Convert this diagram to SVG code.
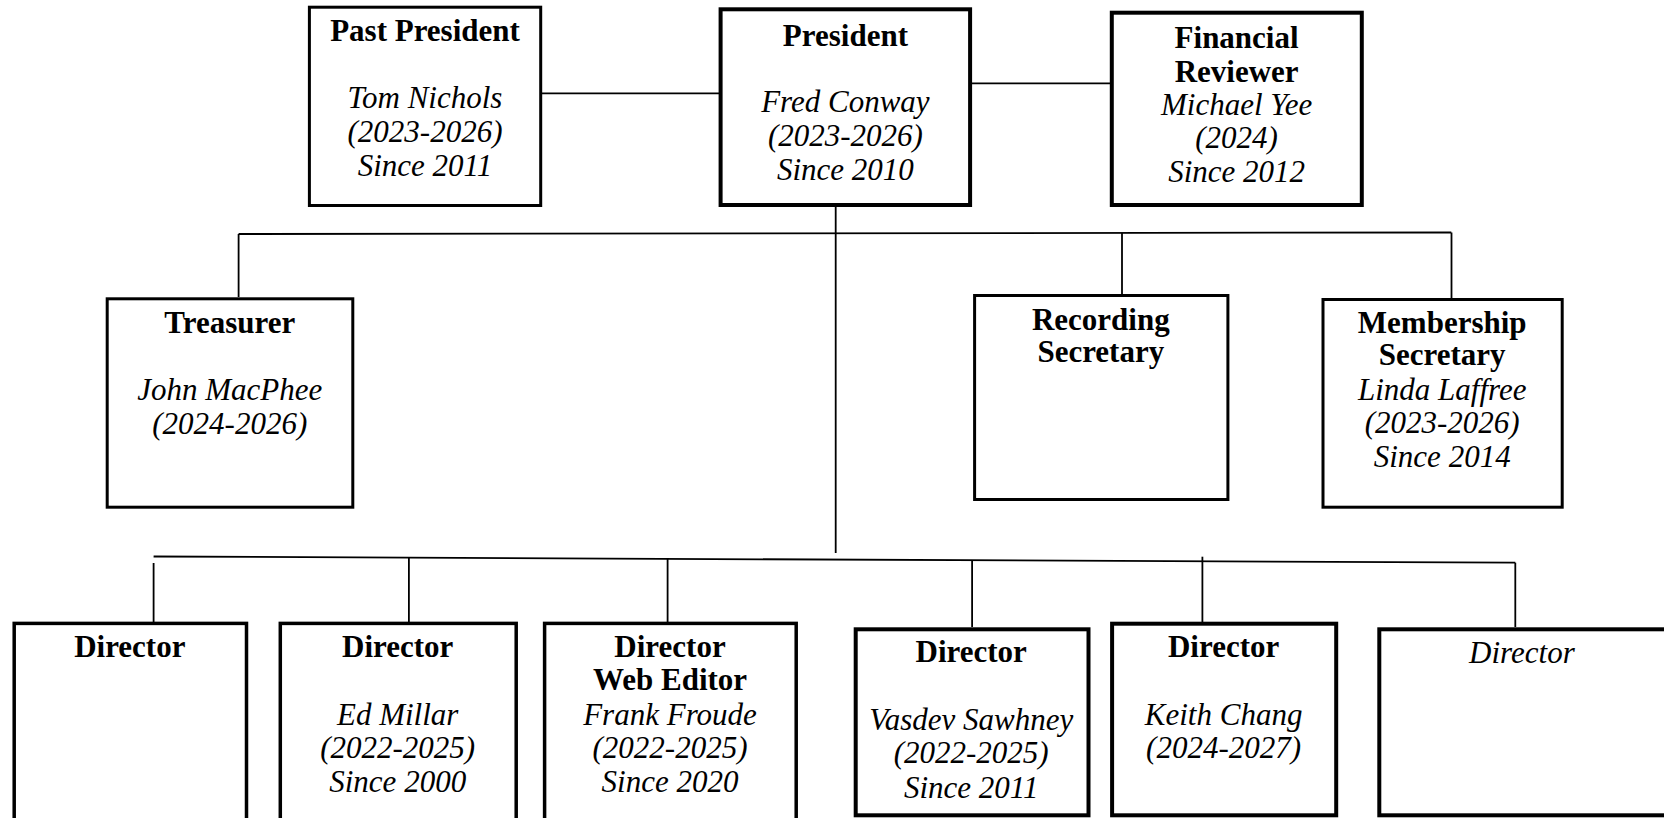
<svg xmlns="http://www.w3.org/2000/svg" width="1664" height="818" viewBox="0 0 1664 818">
<style>
.box{fill:#fff;stroke:#000}
.t{font-family:"Liberation Serif","Times New Roman",serif;font-size:31px;fill:#000;text-anchor:middle}
.b{font-weight:bold}
.i{font-style:italic}
.c{stroke:#000;stroke-width:1.8;fill:none}
</style>
<rect width="1664" height="818" fill="#fff"/>
<g id="connectors">
<line class="c" x1="542" y1="93.3" x2="719" y2="93.3"/>
<line class="c" x1="972" y1="83.3" x2="1110" y2="83.3"/>
<line class="c" x1="835.7" y1="207" x2="835.7" y2="553"/>
<line class="c" x1="238.6" y1="234" x2="1451.3" y2="232.5"/>
<line class="c" x1="238.6" y1="234" x2="238.6" y2="297"/>
<line class="c" x1="1122" y1="233" x2="1122" y2="294"/>
<line class="c" x1="1451.5" y1="232.5" x2="1451.5" y2="298"/>
<line class="c" x1="153.6" y1="556.5" x2="1515.3" y2="562.7"/>
<line class="c" x1="153.6" y1="563" x2="153.6" y2="622"/>
<line class="c" x1="408.9" y1="557.7" x2="408.9" y2="622"/>
<line class="c" x1="667.6" y1="558.8" x2="667.6" y2="622"/>
<line class="c" x1="972.1" y1="560" x2="972.1" y2="627"/>
<line class="c" x1="1202.4" y1="556.7" x2="1202.4" y2="622"/>
<line class="c" x1="1515.3" y1="562.7" x2="1515.3" y2="627"/>
</g>
<g id="past-president">
<rect class="box" x="309.4" y="7.2" width="231.3" height="198.3" stroke-width="3"/>
<text class="t b" x="425" y="40.7">Past President</text>
<text class="t i" x="425" y="108.3">Tom Nichols</text>
<text class="t i" x="425" y="142">(2023-2026)</text>
<text class="t i" x="425" y="175.7">Since 2011</text>
</g>
<g id="president">
<rect class="box" x="720.6" y="9.3" width="249.5" height="195.7" stroke-width="4"/>
<text class="t b" x="845.4" y="46">President</text>
<text class="t i" x="845.4" y="111.7">Fred Conway</text>
<text class="t i" x="845.4" y="145.8">(2023-2026)</text>
<text class="t i" x="845.4" y="180">Since 2010</text>
</g>
<g id="financial-reviewer">
<rect class="box" x="1111.8" y="12.7" width="250" height="192.3" stroke-width="4"/>
<text class="t b" x="1236.6" y="48.3">Financial</text>
<text class="t b" x="1236.6" y="81.7">Reviewer</text>
<text class="t i" x="1236.6" y="115">Michael Yee</text>
<text class="t i" x="1236.6" y="148.3">(2024)</text>
<text class="t i" x="1236.6" y="181.7">Since 2012</text>
</g>
<g id="treasurer">
<rect class="box" x="107.2" y="298.8" width="245.6" height="208.4" stroke-width="3"/>
<text class="t b" x="229.8" y="333.3">Treasurer</text>
<text class="t i" x="229.8" y="400">John MacPhee</text>
<text class="t i" x="229.8" y="434">(2024-2026)</text>
</g>
<g id="recording-secretary">
<rect class="box" x="974.6" y="295.5" width="253.3" height="204" stroke-width="3"/>
<text class="t b" x="1100.8" y="330">Recording</text>
<text class="t b" x="1100.8" y="361.7">Secretary</text>
</g>
<g id="membership-secretary">
<rect class="box" x="1323" y="299.5" width="239.2" height="207.7" stroke-width="3"/>
<text class="t b" x="1442.2" y="333.3">Membership</text>
<text class="t b" x="1442.2" y="365">Secretary</text>
<text class="t i" x="1442.2" y="400">Linda Laffree</text>
<text class="t i" x="1442.2" y="433.3">(2023-2026)</text>
<text class="t i" x="1442.2" y="466.7">Since 2014</text>
</g>
<g id="director-1">
<rect class="box" x="14.2" y="623.4" width="232.3" height="230" stroke-width="3.5"/>
<text class="t b" x="129.8" y="657.3">Director</text>
</g>
<g id="director-2">
<rect class="box" x="280.3" y="623.4" width="235.9" height="230" stroke-width="3.5"/>
<text class="t b" x="397.7" y="657.3">Director</text>
<text class="t i" x="397.7" y="725">Ed Millar</text>
<text class="t i" x="397.7" y="758.3">(2022-2025)</text>
<text class="t i" x="397.7" y="791.7">Since 2000</text>
</g>
<g id="director-3">
<rect class="box" x="544.6" y="623.4" width="251.6" height="230" stroke-width="3.5"/>
<text class="t b" x="670" y="657.3">Director</text>
<text class="t b" x="670" y="690">Web Editor</text>
<text class="t i" x="670" y="725">Frank Froude</text>
<text class="t i" x="670" y="758.3">(2022-2025)</text>
<text class="t i" x="670" y="791.7">Since 2020</text>
</g>
<g id="director-4">
<rect class="box" x="855.7" y="629.3" width="232.8" height="186" stroke-width="4"/>
<text class="t b" x="971.2" y="661.7">Director</text>
<text class="t i" x="971.2" y="730">Vasdev Sawhney</text>
<text class="t i" x="971.2" y="763.3">(2022-2025)</text>
<text class="t i" x="971.2" y="798.3">Since 2011</text>
</g>
<g id="director-5">
<rect class="box" x="1112.1" y="623.7" width="224.1" height="191.6" stroke-width="4"/>
<text class="t b" x="1223.6" y="657.3">Director</text>
<text class="t i" x="1223.6" y="725">Keith Chang</text>
<text class="t i" x="1223.6" y="758.3">(2024-2027)</text>
</g>
<g id="director-6">
<rect class="box" x="1379.3" y="629.3" width="300" height="186" stroke-width="4"/>
<text class="t i" x="1521.9" y="663.3">Director</text>
</g>
</svg>
